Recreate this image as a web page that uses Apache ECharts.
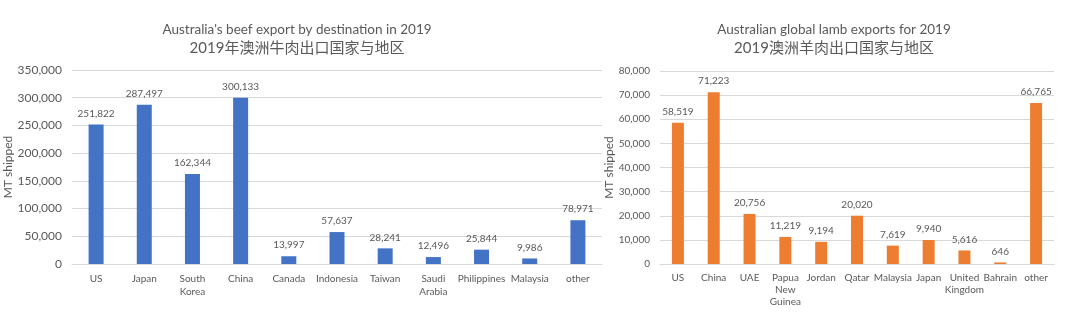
<!DOCTYPE html>
<html><head><meta charset="utf-8">
<script src="https://cdn.jsdelivr.net/npm/echarts@6/dist/echarts.min.js"></script>
<style>html,body{margin:0;padding:0;background:#fff}#c{width:1080px;height:324px}</style>
</head><body><div id="c"></div>
<script>
const beefCategories = ['US','Japan','South\nKorea','China','Canada','Indonesia','Taiwan','Saudi\nArabia','Philippines','Malaysia','other'];
const beefValues = [251822,287497,162344,300133,13997,57637,28241,12496,25844,9986,78971];
const lambCategories = ['US','China','UAE','Papua\nNew\nGuinea','Jordan','Qatar','Malaysia','Japan','United\nKingdom','Bahrain','other'];
const lambValues = [58519,71223,20756,11219,9194,20020,7619,9940,5616,646,66765];
const beefTitle = ["Australia's beef export by destination in 2019", "2019年澳洲牛肉出口国家与地区"];
const lambTitle = ["Australian global lamb exports for 2019", "2019澳洲羊肉出口国家与地区"];
const yName = 'MT shipped';

const F = 'Lato,"Noto Sans CJK SC",sans-serif';
const txt = '#595959';
const fmt = v => v.toLocaleString('en-US');
const rich = {
  e:{fontFamily:F,fontSize:13.5,color:txt,lineHeight:19},
  c:{fontFamily:F,fontSize:15,color:txt,lineHeight:19}
};
const mkTitle = t => '{e|' + t[0] + '}\n{c|' + t[1] + '}';
const chart = echarts.init(document.getElementById('c'));
chart.setOption({
  animation:false,
  textStyle:{fontFamily:F},
  title:[
    {text:mkTitle(beefTitle),left:292,top:15,textAlign:'center',textStyle:{fontFamily:F,fontSize:15,fontWeight:'normal',color:txt,lineHeight:19,rich:rich}},
    {text:mkTitle(lambTitle),left:829,top:15,textAlign:'center',textStyle:{fontFamily:F,fontSize:15,fontWeight:'normal',color:txt,lineHeight:19,rich:rich}}
  ],
  grid:[
    {left:72,right:478,top:70,bottom:60},
    {left:660,right:26,top:71,bottom:60}
  ],
  xAxis:[
    {type:'category',gridIndex:0,data:beefCategories,axisTick:{show:false},axisLine:{lineStyle:{color:'#d9d9d9'}},
     axisLabel:{color:txt,fontSize:10,interval:0,margin:8,lineHeight:13,fontFamily:F}},
    {type:'category',gridIndex:1,data:lambCategories,axisTick:{show:false},axisLine:{lineStyle:{color:'#d9d9d9'}},
     axisLabel:{color:txt,fontSize:10,interval:0,margin:8,lineHeight:12,fontFamily:F}}
  ],
  yAxis:[
    {type:'value',gridIndex:0,min:0,max:350000,interval:50000,name:yName,nameLocation:'middle',nameGap:58,nameRotate:90,nameMoveOverlap:false,
     nameTextStyle:{color:txt,fontSize:12,fontFamily:F},
     axisLabel:{color:txt,fontSize:12,formatter:fmt,margin:10,fontFamily:F},splitLine:{lineStyle:{color:'#d9d9d9'}},axisLine:{show:false}},
    {type:'value',gridIndex:1,min:0,max:80000,interval:10000,name:yName,nameLocation:'middle',nameGap:45,nameRotate:90,nameMoveOverlap:false,
     nameTextStyle:{color:txt,fontSize:12,fontFamily:F},
     axisLabel:{color:txt,fontSize:10,formatter:fmt,margin:10,fontFamily:F},splitLine:{lineStyle:{color:'#d9d9d9'}},axisLine:{show:false}}
  ],
  series:[
    {type:'bar',xAxisIndex:0,yAxisIndex:0,data:beefValues,barWidth:15,itemStyle:{color:'#4472C4'},
     label:{show:true,position:'top',color:txt,fontSize:10,formatter:p=>fmt(p.value),distance:6,fontFamily:F}},
    {type:'bar',xAxisIndex:1,yAxisIndex:1,data:lambValues,barWidth:12,itemStyle:{color:'#ED7D31'},
     label:{show:true,position:'top',color:txt,fontSize:10,formatter:p=>fmt(p.value),distance:6,fontFamily:F}}
  ]
});
</script></body></html>
